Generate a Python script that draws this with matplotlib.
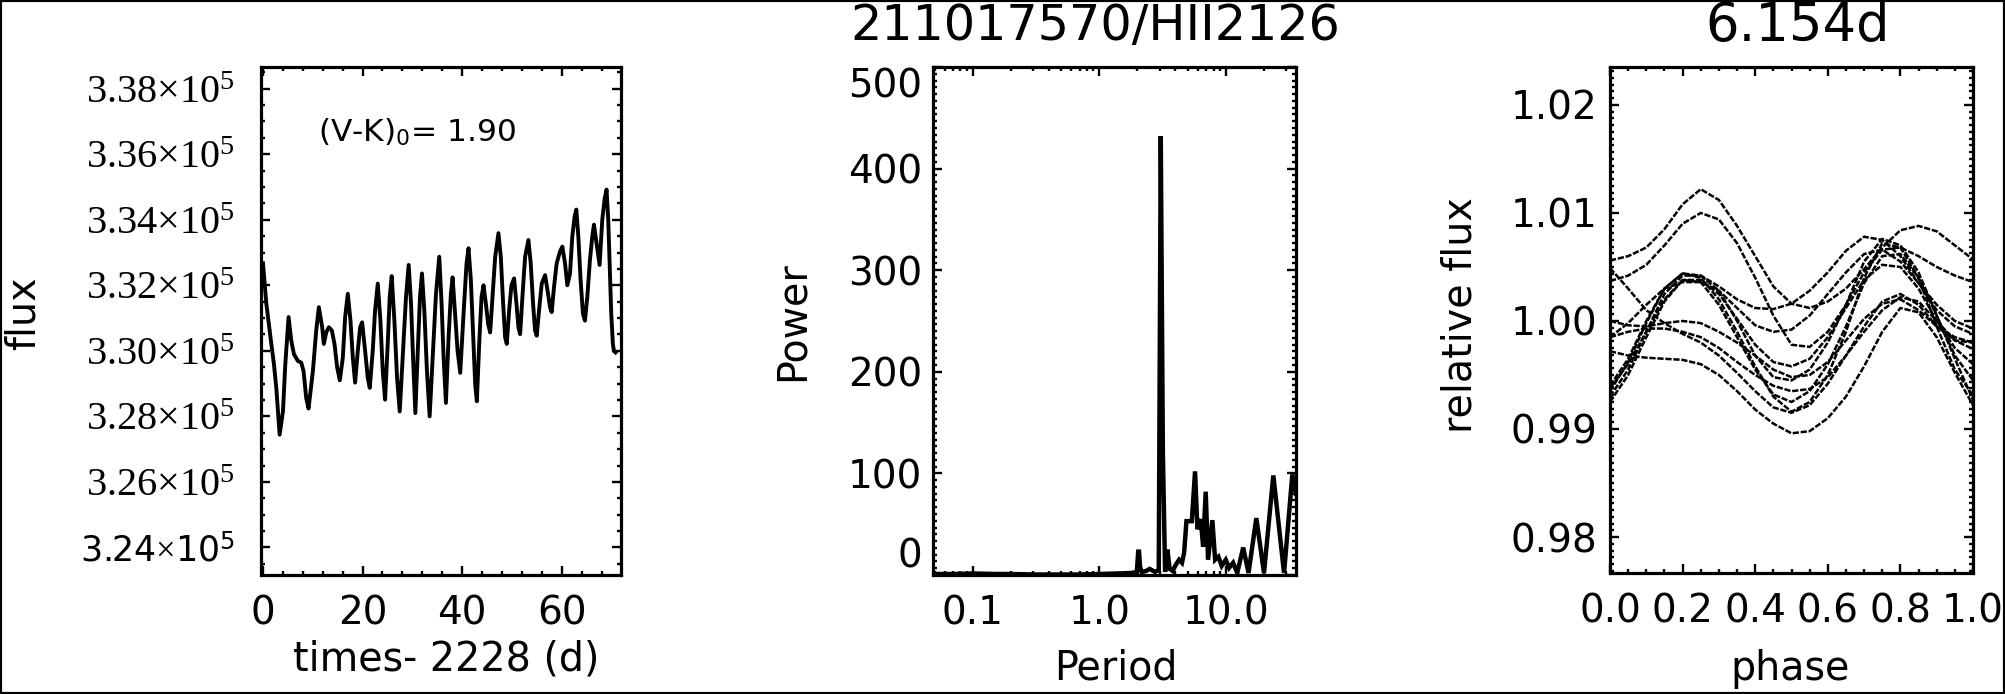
import matplotlib
matplotlib.use('Agg')
import matplotlib.pyplot as plt
from matplotlib.ticker import MultipleLocator, LogLocator, NullFormatter, AutoMinorLocator
from matplotlib.patches import Rectangle

plt.rcParams['font.family'] = ['DejaVu Sans']
plt.rcParams['mathtext.fontset'] = 'custom'
plt.rcParams['mathtext.rm'] = 'Liberation Serif'
plt.rcParams['mathtext.it'] = 'Liberation Serif:italic'
plt.rcParams['mathtext.bf'] = 'Liberation Serif:bold'
plt.rcParams['mathtext.sf'] = 'DejaVu Sans'

# ---------------- data ----------------
# Panel 1: light curve (time - 2228 d, flux in units of 1e5)
time_d = [0.00, 0.67, 1.67, 2.20, 2.67, 3.34, 4.01, 4.48, 5.14, 5.68, 6.21, 7.01, 7.68, 8.15,
          8.68, 9.15, 10.02, 10.69, 11.22, 11.89, 12.22, 12.69, 13.23, 13.83, 14.36, 14.90,
          15.43, 16.03, 16.50, 17.03, 17.57, 18.04, 18.50, 19.04, 19.51, 19.91, 20.51, 21.04,
          21.44, 22.04, 22.51, 23.05, 23.58, 24.05, 24.52, 25.05, 25.45, 25.85, 26.39, 26.92,
          27.46, 28.06, 28.72, 29.26, 29.73, 30.19, 30.60, 31.06, 31.53, 31.93, 32.40, 32.93,
          33.47, 34.07, 34.74, 35.40, 35.87, 36.27, 36.74, 37.27, 37.74, 38.08, 38.54, 39.08,
          39.61, 40.28, 40.88, 41.28, 41.75, 42.22, 42.62, 42.95, 43.42, 43.89, 44.29, 44.76,
          45.22, 45.62, 46.09, 46.63, 47.29, 47.76, 48.23, 48.63, 48.96, 49.43, 49.90, 50.43,
          50.90, 51.30, 51.64, 52.10, 52.64, 53.31, 53.77, 54.24, 54.64, 54.98, 55.44, 55.98,
          56.65, 57.25, 57.65, 57.98, 58.45, 58.98, 59.65, 60.12, 60.66, 61.12, 61.66, 62.12,
          62.59, 62.93, 63.33, 63.79, 64.26, 64.66, 65.13, 65.66, 66.13, 66.47, 67.00, 67.60,
          68.14, 68.60, 69.00, 69.34, 69.67, 69.94, 70.27, 70.47, 70.80]
flux_e5 = [3.3267, 3.3144, 3.3021, 3.2959, 3.2887, 3.2744, 3.2815, 3.2959, 3.3103, 3.3031,
           3.2990, 3.2969, 3.2964, 3.2938, 3.2856, 3.2824, 3.2938, 3.3062, 3.3133, 3.3072,
           3.3021, 3.3056, 3.3072, 3.3062, 3.3021, 3.2949, 3.2910, 3.2979, 3.3103, 3.3174,
           3.3092, 3.2979, 3.2903, 3.3000, 3.3072, 3.3087, 3.3000, 3.2918, 3.2887, 3.3000,
           3.3123, 3.3205, 3.3092, 3.2938, 3.2851, 3.3021, 3.3164, 3.3228, 3.3092, 3.2918,
           3.2815, 3.2979, 3.3164, 3.3262, 3.3144, 3.2959, 3.2810, 3.2990, 3.3164, 3.3236,
           3.3123, 3.2938, 3.2800, 3.2979, 3.3174, 3.3287, 3.3144, 3.2979, 3.2841, 3.3041,
           3.3174, 3.3224, 3.3123, 3.3000, 3.2933, 3.3113, 3.3267, 3.3313, 3.3215, 3.3041,
           3.2897, 3.2846, 3.3021, 3.3164, 3.3200, 3.3144, 3.3082, 3.3056, 3.3164, 3.3287,
           3.3359, 3.3287, 3.3144, 3.3041, 3.3021, 3.3123, 3.3200, 3.3221, 3.3144, 3.3072,
           3.3051, 3.3164, 3.3287, 3.3338, 3.3267, 3.3144, 3.3062, 3.3046, 3.3123, 3.3205,
           3.3231, 3.3174, 3.3133, 3.3118, 3.3195, 3.3267, 3.3303, 3.3318, 3.3267, 3.3200,
           3.3236, 3.3349, 3.3410, 3.3431, 3.3349, 3.3215, 3.3113, 3.3092, 3.3164, 3.3277,
           3.3349, 3.3385, 3.3328, 3.3262, 3.3400, 3.3462, 3.3492, 3.3400, 3.3246, 3.3113,
           3.3021, 3.3000, 3.2995]
flux_ticks = [3.24, 3.26, 3.28, 3.30, 3.32, 3.34, 3.36, 3.38]
flux_ticklabels = ['3.24', '3.26', '3.28', '3.30', '3.32', '3.34', '3.36', '3.38']
time_ticks = [0, 20, 40, 60]

# Panel 2: periodogram
period = [0.0486, 0.07, 0.10, 0.15, 0.20, 0.30, 0.50, 0.70, 1.00, 1.40, 1.80, 1.98, 2.03,
          2.06, 2.10, 2.16, 2.35, 2.50, 2.76, 2.95, 3.06, 3.18, 3.31, 3.45, 3.60, 3.80, 4.02,
          4.27, 4.50, 4.68, 4.88, 5.38, 5.71, 5.96, 6.33, 6.61, 6.93, 7.23, 7.82, 8.22, 8.73,
          9.27, 9.98, 10.6, 11.4, 12.3, 13.7, 15.1, 17.4, 20.0, 23.7, 28.8, 33.5, 35.8]
power = [1, 1, 1.5, 1, 1, 0.5, 0.5, 0.5, 1, 1.5, 2, 3, 23, 23, 8, 3, 4, 6, 3, 5, 432,
         120, 3, 25, 6, 4, 10, 15, 12, 22, 53, 53, 102, 45, 55, 28, 82, 15, 54, 15, 18,
         9, 15, 7, 12, 2, 27, 2, 56, 2, 98, 2, 99, 80]
period_ticks = [0.1, 1.0, 10.0]
period_ticklabels = ['0.1', '1.0', '10.0']
power_ticks = [0, 100, 200, 300, 400, 500]

# Panel 3: phase-folded cycles (relative flux)
phase_grid = [0.00, 0.05, 0.10, 0.15, 0.20, 0.25, 0.30, 0.35, 0.40, 0.45, 0.50,
              0.55, 0.60, 0.65, 0.70, 0.75, 0.80, 0.85, 0.90, 0.95, 1.00]
cycle_01 = [1.0056, 1.0060, 1.0068, 1.0085, 1.0108, 1.0122, 1.0112, 1.0088, 1.0060, 1.0032, 1.0016,
            1.0012, 1.0018, 1.0030, 1.0048, 1.0068, 1.0084, 1.0088, 1.0083, 1.0070, 1.0057]
cycle_02 = [1.0037, 1.0042, 1.0052, 1.0070, 1.0090, 1.0100, 1.0094, 1.0072, 1.0040, 1.0005, 0.9978,
            0.9976, 0.9990, 1.0015, 1.0045, 1.0066, 1.0068, 1.0060, 1.0050, 1.0042, 1.0036]
cycle_03 = [1.0049, 1.0030, 1.0010, 0.9998, 0.9988, 0.9980, 0.9968, 0.9952, 0.9935, 0.9920, 0.9915,
            0.9922, 0.9942, 0.9968, 0.9995, 1.0018, 1.0025, 1.0015, 0.9995, 0.9982, 0.9980]
cycle_04 = [0.9935, 0.9962, 0.9998, 1.0030, 1.0044, 1.0040, 1.0020, 0.9990, 0.9958, 0.9930, 0.9916,
            0.9925, 0.9950, 0.9990, 1.0040, 1.0072, 1.0068, 1.0040, 0.9995, 0.9955, 0.9931]
cycle_05 = [0.9930, 0.9955, 0.9990, 1.0025, 1.0042, 1.0042, 1.0028, 1.0000, 0.9968, 0.9948, 0.9945,
            0.9955, 0.9980, 1.0015, 1.0055, 1.0076, 1.0070, 1.0045, 1.0005, 0.9965, 0.9927]
cycle_06 = [0.9925, 0.9950, 0.9985, 1.0018, 1.0038, 1.0036, 1.0015, 0.9985, 0.9955, 0.9932, 0.9925,
            0.9935, 0.9960, 0.9995, 1.0035, 1.0060, 1.0062, 1.0040, 1.0005, 0.9968, 0.9945]
cycle_07 = [0.9940, 0.9965, 1.0000, 1.0030, 1.0044, 1.0042, 1.0032, 1.0020, 1.0012, 1.0011, 1.0016,
            1.0028, 1.0045, 1.0065, 1.0078, 1.0075, 1.0060, 1.0035, 1.0010, 0.9995, 0.9988]
cycle_08 = [0.9985, 0.9998, 1.0015, 1.0030, 1.0036, 1.0036, 1.0028, 1.0012, 0.9996, 0.9990, 0.9992,
            1.0005, 1.0025, 1.0045, 1.0062, 1.0066, 1.0055, 1.0035, 1.0015, 1.0000, 0.9993]
cycle_09 = [1.0000, 0.9996, 0.9995, 0.9998, 1.0000, 0.9998, 0.9990, 0.9980, 0.9968, 0.9955, 0.9948,
            0.9950, 0.9962, 0.9982, 1.0002, 1.0016, 1.0020, 1.0010, 0.9995, 0.9985, 0.9980]
cycle_10 = [0.9985, 0.9990, 0.9993, 0.9993, 0.9990, 0.9985, 0.9975, 0.9962, 0.9950, 0.9940, 0.9935,
            0.9937, 0.9948, 0.9968, 0.9990, 1.0010, 1.0022, 1.0018, 1.0000, 0.9982, 0.9974]
cycle_11 = [0.9972, 0.9968, 0.9966, 0.9965, 0.9964, 0.9960, 0.9950, 0.9935, 0.9918, 0.9905, 0.9896,
            0.9898, 0.9910, 0.9930, 0.9958, 0.9990, 1.0012, 1.0008, 0.9985, 0.9952, 0.9922]
cycle_12 = [0.9938, 0.9960, 0.9990, 1.0020, 1.0038, 1.0038, 1.0025, 1.0002, 0.9978, 0.9962, 0.9958,
            0.9965, 0.9985, 1.0012, 1.0038, 1.0052, 1.0050, 1.0030, 1.0000, 0.9975, 0.9960]
phase_cycles = [cycle_01, cycle_02, cycle_03, cycle_04, cycle_05, cycle_06,
                cycle_07, cycle_08, cycle_09, cycle_10, cycle_11, cycle_12]
phase_ticks = [0.0, 0.2, 0.4, 0.6, 0.8, 1.0]
phase_ticklabels = ['0.0', '0.2', '0.4', '0.6', '0.8', '1.0']
relflux_ticks = [0.98, 0.99, 1.00, 1.01, 1.02]
relflux_ticklabels = ['0.98', '0.99', '1.00', '1.01', '1.02']

title_mid = '211017570/HII2126'
title_right = '6.154d'

# ---------------- figure ----------------
W, H = 2005, 694
fig = plt.figure(figsize=(W / 100, H / 100), dpi=100)


def fx(px):
    return px / W


def fy(py):
    return 1 - py / H


def style_axes(ax, ypad, xpad=14):
    for s in ax.spines.values():
        s.set_linewidth(2.3)
    ax.tick_params(which='both', direction='in', top=True, right=True, width=1.7, color='k')
    ax.tick_params(which='major', length=6.5)
    ax.tick_params(which='minor', length=3.2)
    ax.tick_params(axis='x', which='major', labelsize=28, pad=xpad)
    ax.tick_params(axis='y', which='major', labelsize=28, pad=ypad)


ax1 = fig.add_axes([fx(261), fy(575), fx(360), 508 / H])
ax2 = fig.add_axes([fx(933), fy(575), fx(363), 508 / H])
ax3 = fig.add_axes([fx(1610), fy(573), fx(363), 506 / H])

# Panel 1
ax1.plot(time_d, flux_e5, color='k', lw=2.8)
ax1.set_xlim(-0.4, 71.9)
ax1.set_ylim(3.2316, 3.3866)
style_axes(ax1, ypad=19)
ax1.set_xticks(time_ticks)
ax1.xaxis.set_minor_locator(MultipleLocator(4))
ax1.set_yticks(flux_ticks)
ylabels = []
for i, t in enumerate(flux_ticklabels):
    if i == 0:
        ylabels.append(t + r'$\times$10$^{\mathsf{5}}$')
    else:
        ylabels.append(t + r'$\times$10$^{5}$')
ax1.set_yticklabels(ylabels)
for i, lab in enumerate(ax1.get_yticklabels()):
    if i == 0:
        lab.set_fontfamily('DejaVu Sans')
        lab.set_fontsize(25)
    else:
        lab.set_fontfamily('Liberation Serif')
        lab.set_fontsize(29)
ax1.yaxis.set_minor_locator(MultipleLocator(0.005))
ax1.text(fx(318), fy(142), r'(V-K)$_{\mathsf{0}}$= 1.90', transform=fig.transFigure,
         ha='left', va='baseline', fontsize=22.5)

# Panel 2
ax2.plot(period, power, color='k', lw=3.2, solid_joinstyle='miter')
ax2.set_xscale('log')
ax2.set_xlim(0.0486, 35.8)
ax2.set_ylim(0, 500)
style_axes(ax2, ypad=8)
ax2.set_xticks(period_ticks)
ax2.set_xticklabels(period_ticklabels)
ax2.xaxis.set_minor_locator(LogLocator(base=10, subs=[2, 3, 4, 5, 6, 7, 8, 9]))
ax2.xaxis.set_minor_formatter(NullFormatter())
ax2.set_yticks(power_ticks)
ax2.yaxis.set_minor_locator(AutoMinorLocator(15))
ylabs2 = ax2.get_yticklabels()
ylabs2[0].set_verticalalignment('bottom')
ylabs2[-1].set_verticalalignment('top')

# Panel 3
for cyc in phase_cycles:
    ax3.plot(phase_grid, cyc, color='k', lw=1.8, linestyle=(0, (2.5, 0.7)))
ax3.set_xlim(0, 1)
ax3.set_ylim(0.97667, 1.02351)
style_axes(ax3, ypad=9)
ax3.set_xticks(phase_ticks)
ax3.set_xticklabels(phase_ticklabels)
ax3.xaxis.set_minor_locator(MultipleLocator(0.05))
ax3.set_yticks(relflux_ticks)
ax3.set_yticklabels(relflux_ticklabels)
ax3.yaxis.set_minor_locator(AutoMinorLocator(16))

# Labels and titles (figure coordinates)
fig.text(fx(24), fy(313), 'flux', rotation=90, ha='center', va='center', fontsize=28.5)
fig.text(fx(446), fy(671), 'times- 2228 (d)', ha='center', va='baseline', fontsize=28.5)
fig.text(fx(793), fy(321), 'Power', rotation=90, ha='center', va='center', fontsize=28.5)
fig.text(fx(1116), fy(680), 'Period', ha='center', va='baseline', fontsize=28.5)
fig.text(fx(1461), fy(315), 'relative flux', rotation=90, ha='center', va='center', fontsize=28.5)
fig.text(fx(1790), fy(680), 'phase', ha='center', va='baseline', fontsize=28.5)
fig.text(fx(1095), fy(26), title_mid, ha='center', va='center', fontsize=35.5)
fig.text(fx(1798), fy(26), title_right, ha='center', va='center', fontsize=38)

# Figure border
fig.patches.append(Rectangle((0, 0), 1, 1, transform=fig.transFigure, fill=False,
                             edgecolor='k', linewidth=3, zorder=10))

fig.savefig('out.png', dpi=100, facecolor='white')
